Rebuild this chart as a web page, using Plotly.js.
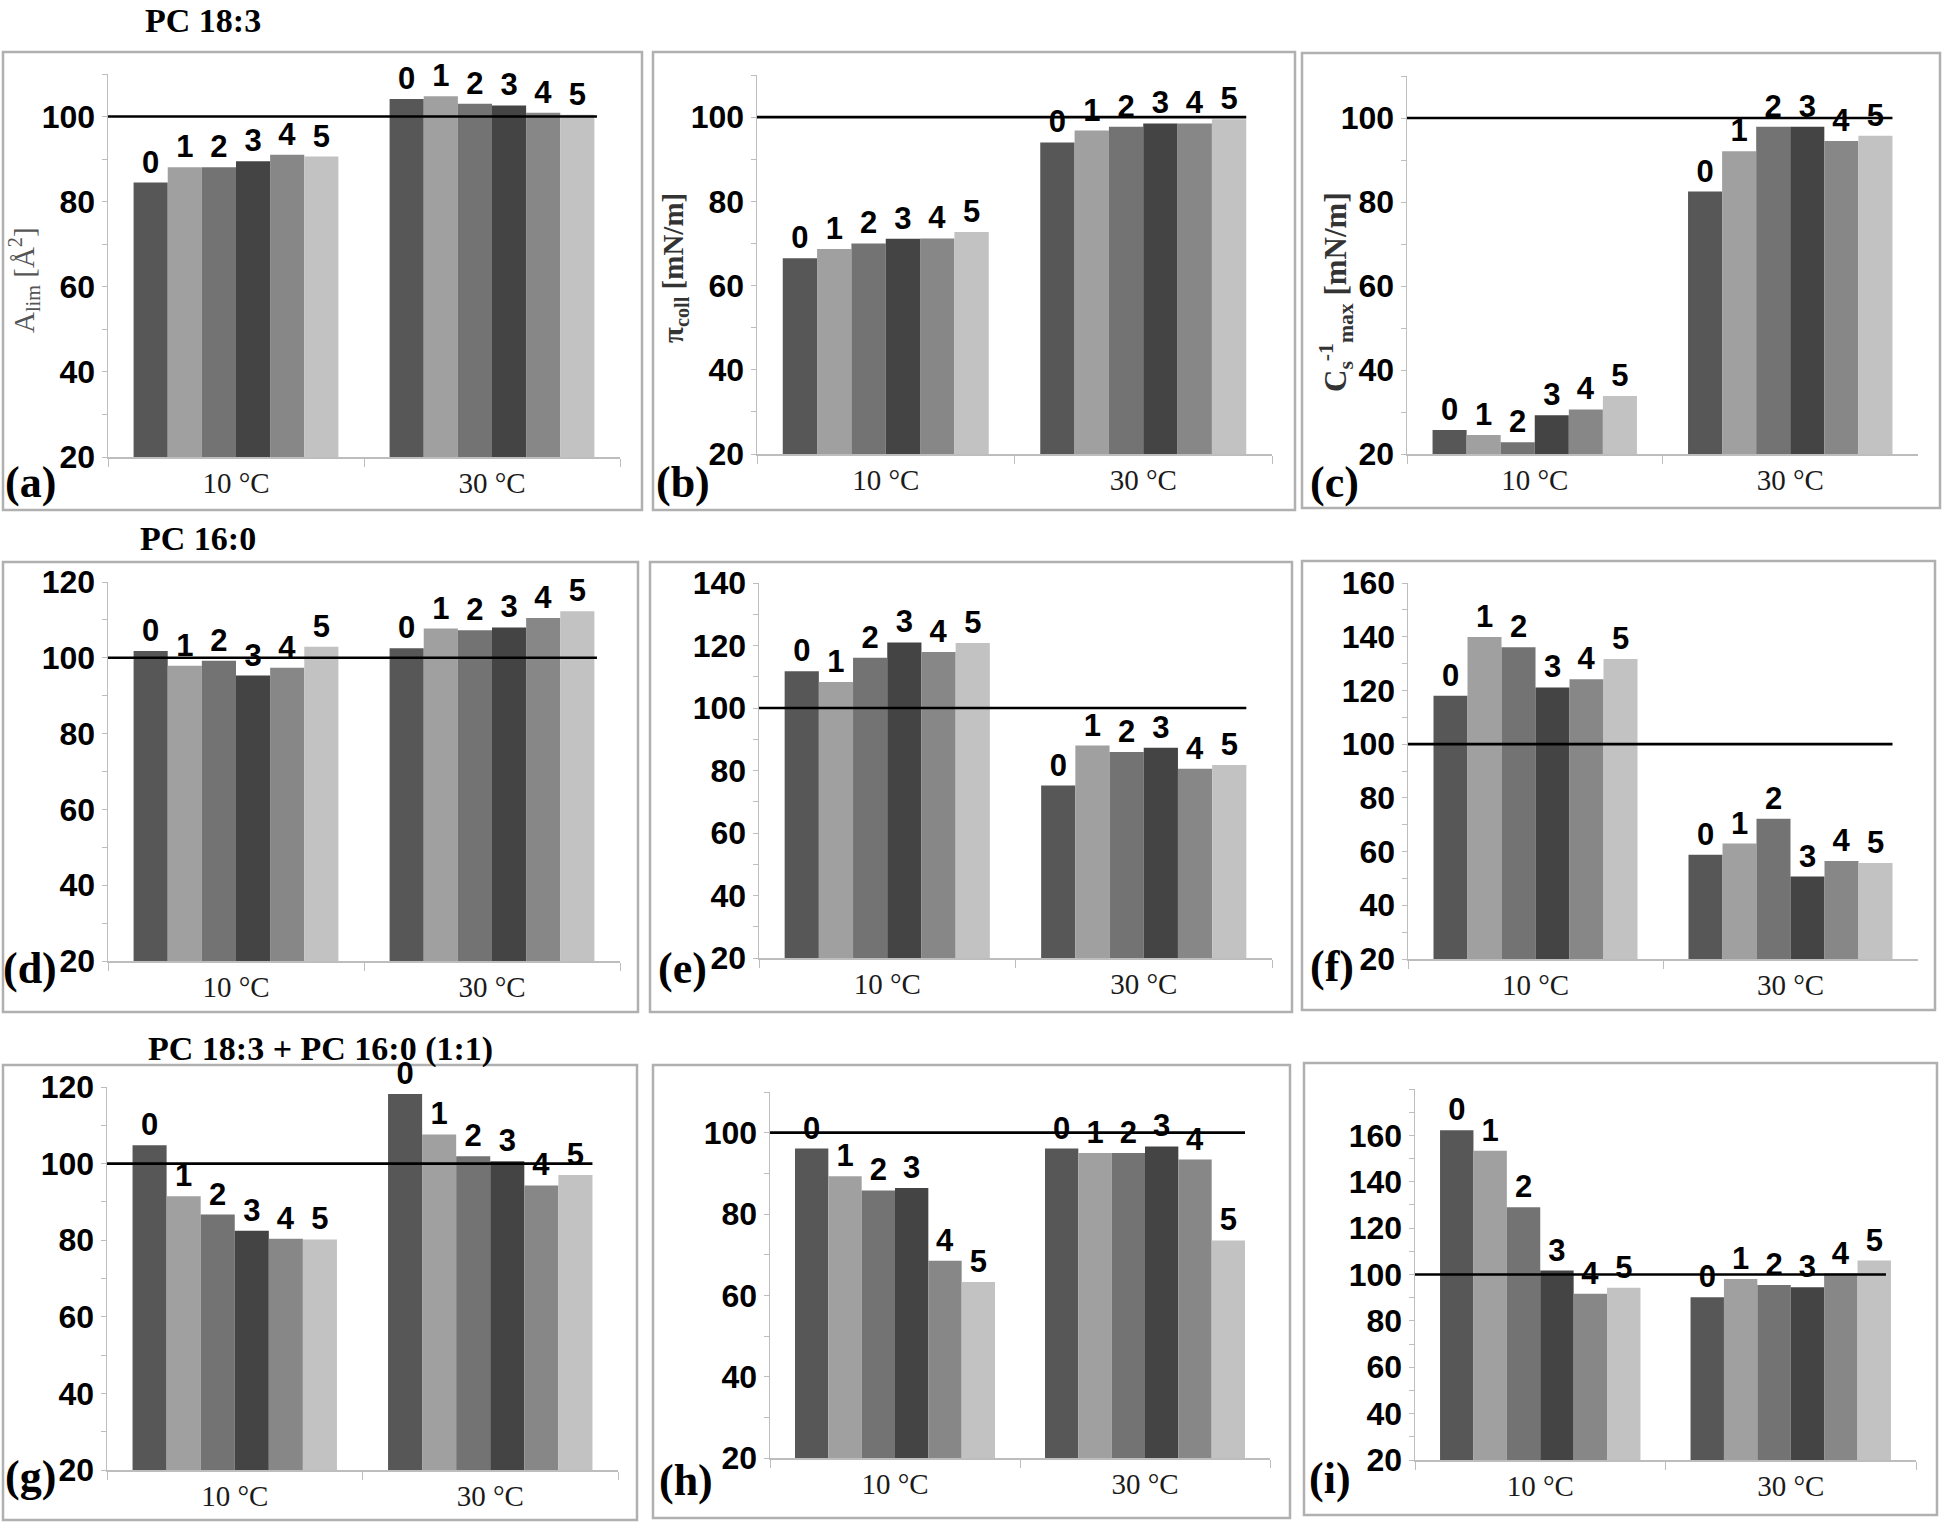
<!DOCTYPE html>
<html>
<head>
<meta charset="utf-8">
<script src="https://cdn.plot.ly/plotly-3.0.1.min.js"></script>
<style>html,body{margin:0;padding:0;background:#fff;}#chart{width:1944px;height:1523px;}</style>
</head>
<body>
<div id="chart"></div>
<script>
// ---------- DATA ----------
const categories = ['10 °C', '30 °C'];
const seriesLabels = ['0', '1', '2', '3', '4', '5'];
const barColors = ['#575757', '#a0a0a0', '#737373', '#444444', '#878787', '#c2c2c2'];

// PC 18:3
const a_10C = [84.5, 88.1, 88.1, 89.5, 91.0, 90.6];
const a_30C = [104.1, 104.8, 103.0, 102.6, 100.9, 100.4];
const b_10C = [66.5, 68.7, 70.0, 71.1, 71.2, 72.7];
const b_30C = [94.0, 96.8, 97.7, 98.5, 98.5, 99.5];
const c_10C = [25.7, 24.5, 22.8, 29.2, 30.6, 33.8];
const c_30C = [82.5, 92.1, 97.9, 97.9, 94.5, 95.8];
// PC 16:0
const d_10C = [101.8, 97.9, 99.2, 95.3, 97.4, 102.9];
const d_30C = [102.5, 107.7, 107.3, 108.0, 110.5, 112.3];
const e_10C = [111.8, 108.3, 116.1, 121.0, 117.9, 120.8];
const e_30C = [75.2, 88.0, 85.9, 87.3, 80.6, 81.8];
const f_10C = [118.0, 139.9, 136.1, 121.1, 124.2, 131.7];
const f_30C = [58.8, 63.0, 72.2, 50.7, 56.5, 55.7];
// PC 18:3 + PC 16:0 (1:1)
const g_10C = [104.8, 91.5, 86.7, 82.5, 80.4, 80.2];
const g_30C = [118.2, 107.6, 101.9, 100.6, 94.3, 97.0];
const h_10C = [96.1, 89.3, 85.8, 86.4, 68.5, 63.3];
const h_30C = [96.1, 95.0, 95.0, 96.6, 93.4, 73.5];
const i_10C = [162.2, 153.4, 129.0, 101.7, 91.7, 94.3];
const i_30C = [90.2, 98.1, 95.5, 94.5, 100.4, 106.0];

const referenceLevel = 100;
const rowTitles = ['PC 18:3', 'PC 16:0', 'PC 18:3 + PC 16:0 (1:1)'];
const yTitles = ['A<sub>lim</sub> [Å<sup>2</sup>]', 'π<sub>coll</sub> [mN/m]', 'C<sub>s</sub><sup>-1</sup><sub>max</sub> [mN/m]'];

// ---------- LAYOUT CONFIG (pixel geometry) ----------
const W = 1944, H = 1523;
const panels = [
  {letter:'(a)', v10:a_10C, v30:a_30C, range:[20,110], ticks:[20,40,60,80,100], plot:[108,74,620,457], box:[3,52,642,510], lp:[30,482], lineEnd:0.955},
  {letter:'(b)', v10:b_10C, v30:b_30C, range:[20,110], ticks:[20,40,60,80,100], plot:[757,75,1272,454], box:[653,52,1295,510], lp:[683,482], lineEnd:0.95},
  {letter:'(c)', v10:c_10C, v30:c_30C, range:[20,110], ticks:[20,40,60,80,100], plot:[1407,76,1918,454], box:[1302,53,1940,508], lp:[1334,482], lineEnd:0.95},
  {letter:'(d)', v10:d_10C, v30:d_30C, range:[20,120], ticks:[20,40,60,80,100,120], plot:[108,582,620,961], box:[3,562,638,1012], lp:[30,968], lineEnd:0.955},
  {letter:'(e)', v10:e_10C, v30:e_30C, range:[20,140], ticks:[20,40,60,80,100,120,140], plot:[759,583,1272,958], box:[650,562,1292,1012], lp:[682,968], lineEnd:0.95},
  {letter:'(f)', v10:f_10C, v30:f_30C, range:[20,160], ticks:[20,40,60,80,100,120,140,160], plot:[1408,583,1918,959], box:[1302,561,1935,1010], lp:[1332,966], lineEnd:0.95},
  {letter:'(g)', v10:g_10C, v30:g_30C, range:[20,120], ticks:[20,40,60,80,100,120], plot:[107,1087,618,1470], box:[3,1065,637,1520], lp:[30,1476], lineEnd:0.95},
  {letter:'(h)', v10:h_10C, v30:h_30C, range:[20,110], ticks:[20,40,60,80,100], plot:[770,1092,1270,1458], box:[653,1065,1290,1518], lp:[686,1480], lineEnd:0.95},
  {letter:'(i)', v10:i_10C, v30:i_30C, range:[20,180], ticks:[20,40,60,80,100,120,140,160], plot:[1415,1089,1916,1460], box:[1304,1063,1937,1515], lp:[1330,1478], lineEnd:0.94}
];
const rowTitlePos = [[203,21], [198,538], [320,1049]];
const yTitlePos = [[24,280], [675,268], [1336,292]];

const px = p => p / W;
const py = p => 1 - p / H;

const sans = '"Liberation Sans", Arial, sans-serif';
const tickFont = {family: sans, size:32, color:'#000', weight:'bold'};
const barTextFont = {family: sans, size:31, color:'#000', weight:'bold'};
const serif = '"Liberation Serif", "Times New Roman", serif';

const data = [];
const layout = {
  width: W, height: H,
  margin: {l:0, r:0, t:0, b:0},
  paper_bgcolor: '#fff', plot_bgcolor: 'rgba(0,0,0,0)',
  barmode: 'group', bargap: 0.2, bargroupgap: 0,
  showlegend: false,
  shapes: [], annotations: []
};

panels.forEach((p, i) => {
  const s = i === 0 ? '' : String(i + 1);
  layout['xaxis' + s] = {
    domain: [px(p.plot[0]), px(p.plot[2])], anchor: 'y' + s,
    type: 'category', categoryorder: 'array', categoryarray: categories,
    showline: true, linecolor: '#bdbdbd', linewidth: 1.5,
    ticks: 'outside', tickson: 'boundaries', ticklen: 8, tickcolor: '#bdbdbd',
    tickfont: {family: serif, size: 29, color: '#1a1a1a'},
    showgrid: false, zeroline: false, fixedrange: true
  };
  layout['yaxis' + s] = {
    domain: [py(p.plot[3]), py(p.plot[1])], anchor: 'x' + s,
    range: p.range, tickmode: 'array', tickvals: p.ticks,
    showline: true, linecolor: '#bdbdbd', linewidth: 1.5,
    ticks: 'outside', ticklen: 5, tickcolor: '#bdbdbd',
    minor: {tick0: 10, dtick: 10, ticks: 'outside', ticklen: 5, tickcolor: '#bdbdbd'},
    tickfont: tickFont,
    showgrid: false, zeroline: false, fixedrange: true
  };
  seriesLabels.forEach((lab, k) => {
    data.push({
      type: 'bar', x: categories, y: [p.v10[k], p.v30[k]],
      xaxis: 'x' + s, yaxis: 'y' + s,
      marker: {color: barColors[k], line: {width: 0}},
      text: [lab, lab], textposition: 'outside', textfont: barTextFont,
      cliponaxis: false, constraintext: 'none',
      showlegend: false, hoverinfo: 'skip'
    });
  });
  // panel frame
  layout.shapes.push({type:'rect', xref:'paper', yref:'paper',
    x0: px(p.box[0]), x1: px(p.box[2]), y0: py(p.box[3]), y1: py(p.box[1]),
    line: {color:'#b0b0b0', width:2.5}, fillcolor:'rgba(0,0,0,0)', layer:'below'});
  // 100 % reference line
  layout.shapes.push({type:'line', xref:'x' + s + ' domain', yref:'y' + s,
    x0: 0, x1: p.lineEnd, y0: referenceLevel, y1: referenceLevel,
    line: {color:'#000', width:2.6}, layer:'above'});
  // panel letter
  layout.annotations.push({text: p.letter, xref:'paper', yref:'paper',
    x: px(p.lp[0]), y: py(p.lp[1]), xanchor:'center', yanchor:'middle', showarrow:false,
    font: {family: serif, size: 44, color:'#000', weight:'bold'}});
});

rowTitles.forEach((t, r) => {
  layout.annotations.push({text: t, xref:'paper', yref:'paper',
    x: px(rowTitlePos[r][0]), y: py(rowTitlePos[r][1]), xanchor:'center', yanchor:'middle', showarrow:false,
    font: {family: serif, size: 34, color:'#000', weight:'bold'}});
});
yTitles.forEach((t, c) => {
  layout.annotations.push({text: t, xref:'paper', yref:'paper', textangle: -90,
    x: px(yTitlePos[c][0]), y: py(yTitlePos[c][1]), xanchor:'center', yanchor:'middle', showarrow:false,
    font: {family: serif, size: c === 2 ? 31 : 29, color: c === 0 ? '#555' : '#333', weight: c === 0 ? 'normal' : 'bold'}});
});

Plotly.newPlot('chart', data, layout, {staticPlot: true, displayModeBar: false});
</script>
</body>
</html>
